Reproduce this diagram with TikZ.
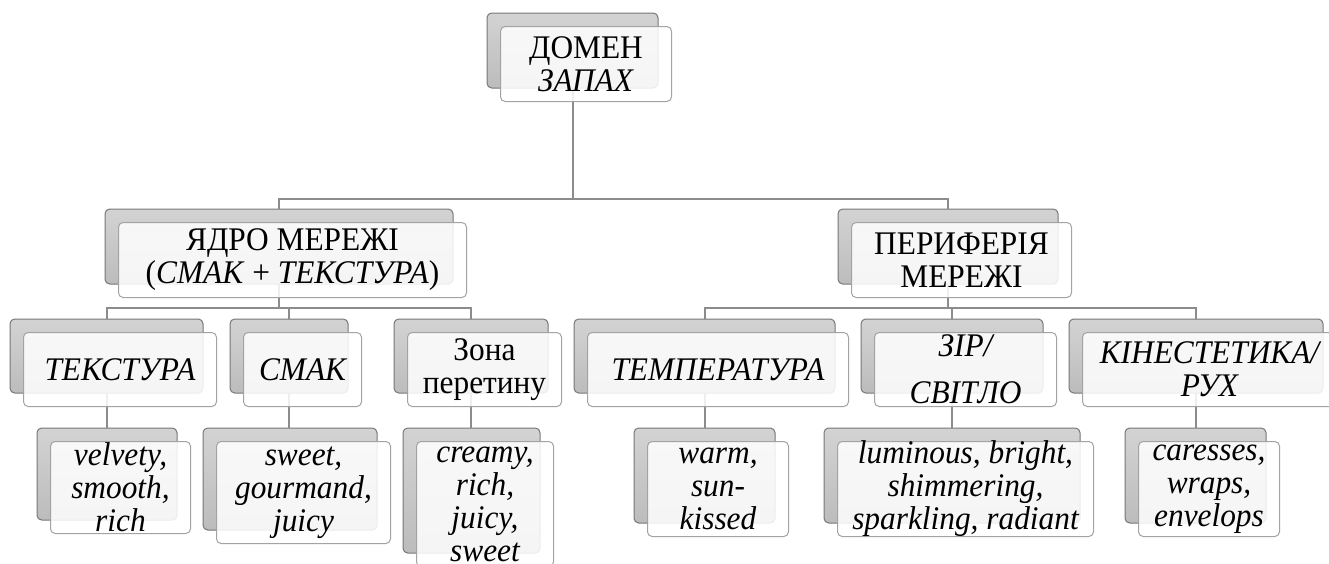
\documentclass[tikz,border=0pt]{standalone}
\usepackage{fontspec}
\setmainfont{Liberation Serif}[FakeStretch=0.95]
\definecolor{gtop}{HTML}{D3D3D3}
\definecolor{gbot}{HTML}{BCBCBC}
\definecolor{bordgray}{HTML}{767676}
\definecolor{fgray}{HTML}{A3A3A3}
\definecolor{lgray}{HTML}{8C8C8C}
\newcommand\mfs{\fontsize{24.75pt}{24.75pt}\selectfont}
\tikzset{
  back/.style={draw=bordgray, line width=0.75pt, rounded corners=3.5pt, top color=gtop, bottom color=gbot, inner sep=0pt, outer sep=0pt},
  front/.style={draw=fgray, line width=0.75pt, rounded corners=3.5pt, fill=white, fill opacity=0.86, inner sep=0pt, outer sep=0pt},
  sz/.style 2 args={minimum width=#1*0.75pt, minimum height=#2*0.75pt},
  lbl/.style={inner sep=0pt, outer sep=0pt, align=center, font=\mfs},
  ilbl/.style={lbl, font=\mfs\itshape},
  conn/.style={draw=lgray, line width=1.5pt},
  off/.style={shift={(13.5,13.5)}}
}
\begin{document}
\begin{tikzpicture}[x=0.75pt, y=-0.75pt]
\useasboundingbox (0,0) rectangle (1329,564);
\clip (0,0) rectangle (1329,564);
% back boxes
\node[back, sz={171}{75}] (dom) at (572.5,50.5) {};
\node[back, sz={348}{75}] (core) at (279,246.5) {};
\node[back, sz={220}{75}] (per) at (948,246.5) {};
\node[back, sz={193}{74}] (tex) at (106.5,356) {};
\node[back, sz={118}{74}] (smak) at (289,356) {};
\node[back, sz={154}{74}] (zona) at (471,356) {};
\node[back, sz={261}{74}] (temp) at (704.5,356) {};
\node[back, sz={182}{74}] (zir) at (952,356) {};
\node[back, sz={254}{74}] (kin) at (1196,356) {};
\node[back, sz={140}{92}] (vel) at (107,474) {};
\node[back, sz={174}{102}] (sw) at (290,479) {};
\node[back, sz={137}{125}] (cr) at (471.5,490.5) {};
\node[back, sz={141}{95}] (warm) at (704.5,475.5) {};
\node[back, sz={256}{95}] (lum) at (952,475.5) {};
\node[back, sz={141}{95}] (car) at (1195.5,475.5) {};
% connectors
\coordinate (j1) at (572.5,199);
\coordinate (j2) at (279,308);
\coordinate (j3) at (948,308);
\draw[conn] (dom.south) -- (j1);
\draw[conn] (core.north) |- (j1) -| (per.north);
\draw[conn] (core.south) -- (j2);
\draw[conn] (tex.north) |- (j2) -| (zona.north);
\draw[conn] (smak.north) -- (smak.north |- j2);
\draw[conn] (per.south) -- (j3);
\draw[conn] (temp.north) |- (j3) -| (kin.north);
\draw[conn] (zir.north) -- (zir.north |- j3);
\draw[conn] (tex.south) -- (tex.south |- vel.north);
\draw[conn] (smak.south) -- (smak.south |- sw.north);
\draw[conn] (zona.south) -- (zona.south |- cr.north);
\draw[conn] (temp.south) -- (temp.south |- warm.north);
\draw[conn] (zir.south) -- (zir.south |- lum.north);
\draw[conn] (kin.south) -- (kin.south |- car.north);
% front boxes
\node[front, sz={171}{75}] (domf) at ([off]dom.center) {};
\node[front, sz={348}{75}] (coref) at ([off]core.center) {};
\node[front, sz={220}{75}] (perf) at ([off]per.center) {};
\node[front, sz={193}{74}] (texf) at ([off]tex.center) {};
\node[front, sz={118}{74}] (smakf) at ([off]smak.center) {};
\node[front, sz={154}{74}] (zonaf) at ([off]zona.center) {};
\node[front, sz={261}{74}] (tempf) at ([off]temp.center) {};
\node[front, sz={182}{74}] (zirf) at ([off]zir.center) {};
\node[front, sz={254}{74}] (kinf) at ([off]kin.center) {};
\node[front, sz={140}{92}] (velf) at ([off]vel.center) {};
\node[front, sz={174}{102}] (swf) at ([off]sw.center) {};
\node[front, sz={137}{125}] (crf) at ([off]cr.center) {};
\node[front, sz={141}{95}] (warmf) at ([off]warm.center) {};
\node[front, sz={256}{95}] (lumf) at ([off]lum.center) {};
\node[front, sz={141}{95}] (carf) at ([off]car.center) {};
% texts
\node[lbl] (domt) at (domf.center) {ДОМЕН\\\textit{ЗАПАХ}};
\node[lbl] (coret) at (coref.center) {ЯДРО МЕРЕЖІ\\(\textit{СМАК} + \textit{ТЕКСТУРА})};
\node[lbl] (pert) at (perf.center) {ПЕРИФЕРІЯ\\МЕРЕЖІ};
\node[ilbl] (text) at (texf.center) {ТЕКСТУРА};
\node[ilbl] (smakt) at (smakf.center) {СМАК};
\node[lbl] (zonat) at (zonaf.center) {Зона\\перетину};
\node[ilbl] (tempt) at (tempf.center) {ТЕМПЕРАТУРА};
\node[ilbl] (zirt) at (zirf.center) {ЗІР/\\[10.5pt]СВІТЛО};
\node[ilbl] (kint) at (kinf.center) {КІНЕСТЕТИКА/\\РУХ};
\node[ilbl] (velt) at (velf.center) {velvety,\\smooth,\\rich};
\node[ilbl] (swt) at (swf.center) {sweet,\\gourmand,\\juicy};
\node[ilbl] (crt) at (crf.center) {creamy,\\rich,\\juicy,\\sweet};
\node[ilbl] (warmt) at (warmf.center) {warm,\\sun-\\kissed};
\node[ilbl] (lumt) at (lumf.center) {luminous, bright,\\shimmering,\\sparkling, radiant};
\node[ilbl] (cart) at (carf.center) {caresses,\\wraps,\\envelops};
\end{tikzpicture}
\end{document}
